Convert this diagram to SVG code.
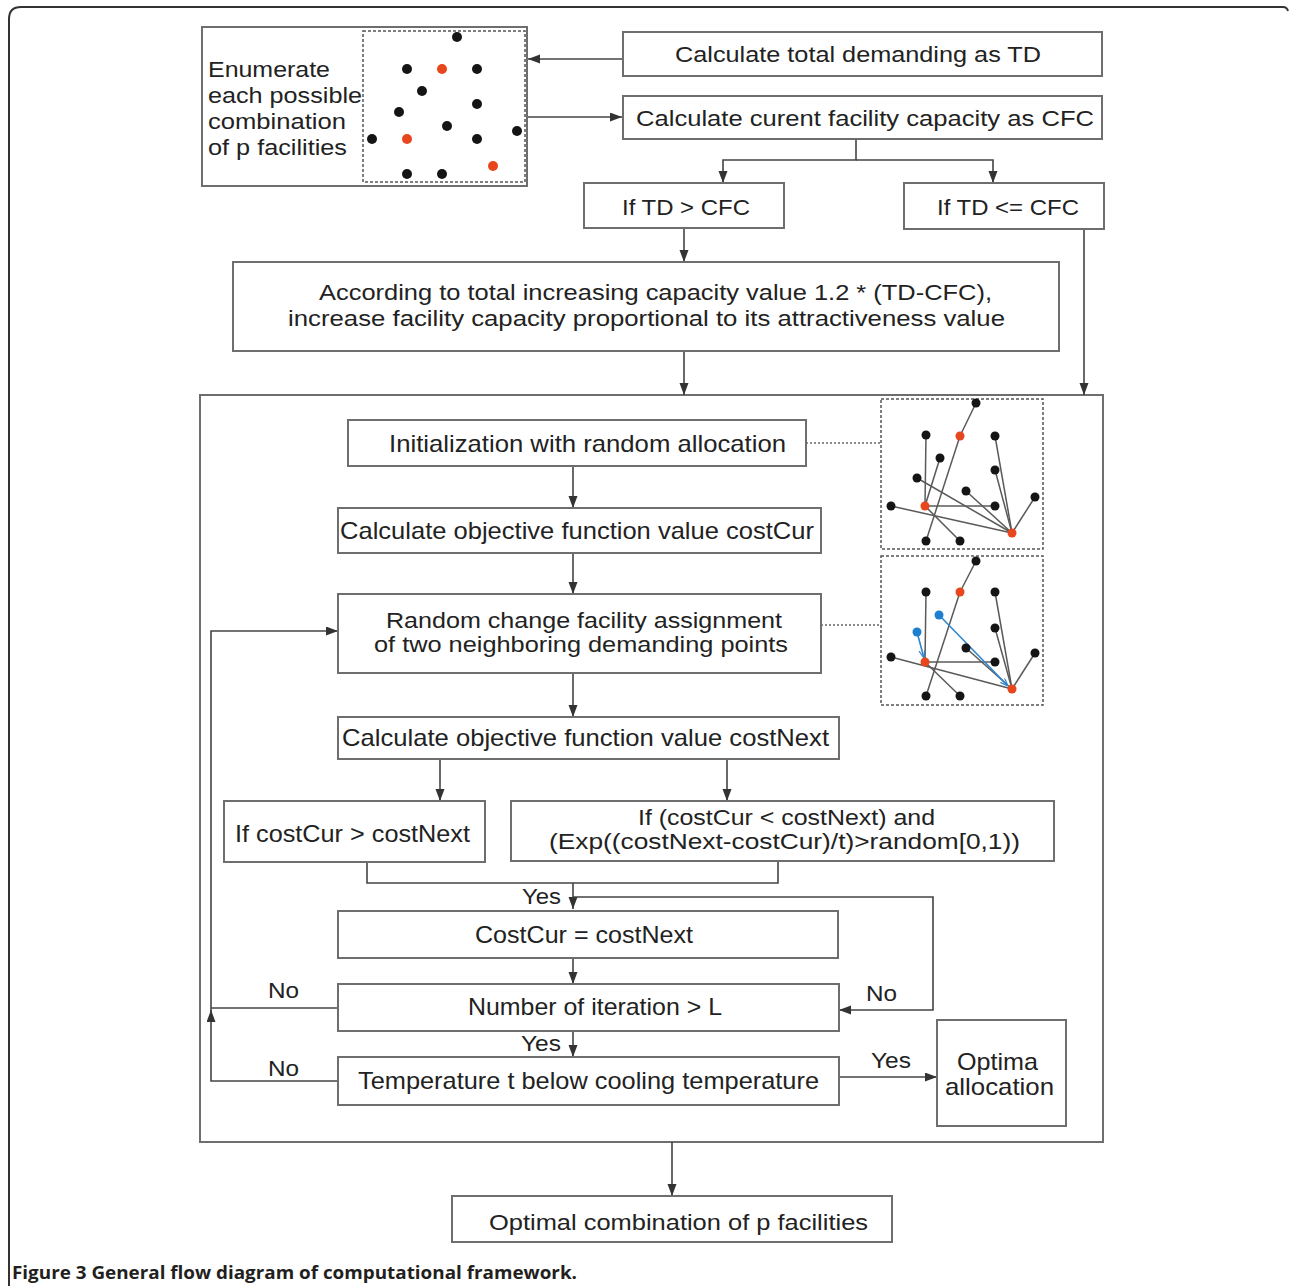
<svg xmlns="http://www.w3.org/2000/svg" width="1290" height="1286" viewBox="0 0 1290 1286">
<style>
.bx{fill:#fff;stroke:#6e6e6e;stroke-width:2}
.fr{fill:none;stroke:#6e6e6e;stroke-width:2}
.t{font-family:"Liberation Sans",Arial,sans-serif;fill:#222;font-size:22px}
.ti{font-family:"Liberation Sans",Arial,sans-serif;fill:#222;font-size:24px}
.t2{font-family:"Liberation Sans",Arial,sans-serif;fill:#222;font-size:22px}
.lb{font-family:"Liberation Sans",Arial,sans-serif;fill:#222;font-size:22px}
.c{fill:none;stroke:#444;stroke-width:1.6}
.ca{fill:none;stroke:#444;stroke-width:1.6;marker-end:url(#ah)}
.dot{fill:none;stroke:#666;stroke-width:1.4;stroke-dasharray:2,2}
.dash{fill:none;stroke:#555;stroke-width:1.5;stroke-dasharray:3,2}
.pl{stroke:#5a5a5a;stroke-width:1.5}
.bl{stroke:#2f86cf;stroke-width:1.6;marker-end:url(#ahb)}
.k{fill:#151515}
.r{fill:#e8461c}
.u{fill:#1f7fcf}
</style>
<defs>
<marker id="ah" markerUnits="userSpaceOnUse" markerWidth="12" markerHeight="10" refX="12" refY="4.5" orient="auto"><path d="M0,0 L12,4.5 L0,9 z" fill="#333"/></marker>
<marker id="ahb" markerUnits="userSpaceOnUse" markerWidth="8" markerHeight="7" refX="8" refY="3" orient="auto"><path d="M0,0 L8,3 L0,6" fill="none" stroke="#2f86cf" stroke-width="1.2"/></marker>
</defs>
<rect width="1290" height="1286" fill="#fff"/>
<path d="M9,1286 V19 Q9,7 21,7 H1283 Q1287,7 1288,11" fill="none" stroke="#333" stroke-width="2"/>

<g id="sa-frame">
<rect class="fr" x="200" y="395" width="903" height="747"/>
</g>

<g id="connectors">
<path class="ca" d="M623,59 H528"/>
<path class="ca" d="M527,117 H622"/>
<path class="ca" d="M856,139 V160 H723 V183"/>
<path class="ca" d="M856,160 H993 V183"/>
<path class="ca" d="M684,228 V262"/>
<path class="ca" d="M1084,229 V395"/>
<path class="ca" d="M684,351 V395"/>
<path class="ca" d="M573,466 V508"/>
<path class="ca" d="M573,553 V594"/>
<path class="ca" d="M573,673 V717"/>
<path class="ca" d="M440,759 V801"/>
<path class="ca" d="M727,759 V801"/>
<path class="c" d="M367,862 V883 H778 V861"/>
<path class="ca" d="M573,883 V909"/>
<path class="ca" d="M573,897 H933 V1010 H839"/>
<path class="ca" d="M573,958 V984"/>
<path class="ca" d="M573,1031 V1057"/>
<path class="c" d="M338,1008 H211"/>
<path class="ca" d="M338,1081 H211 V1010"/>
<path class="ca" d="M211,1012 V631 H338"/>
<path class="ca" d="M839,1077 H937"/>
<path class="ca" d="M672,1142 V1196"/>
<path class="dot" d="M806,443 H881"/>
<path class="dot" d="M821,625 H881"/>
</g>

<g id="enumerate">
<rect class="bx" x="202" y="27" width="325" height="159"/>
<text class="t" x="208" y="77" textLength="122" lengthAdjust="spacingAndGlyphs">Enumerate</text>
<text class="t" x="208" y="103" textLength="154" lengthAdjust="spacingAndGlyphs">each possible</text>
<text class="t" x="208" y="129" textLength="138" lengthAdjust="spacingAndGlyphs">combination</text>
<text class="t" x="208" y="155" textLength="139" lengthAdjust="spacingAndGlyphs">of p facilities</text>
<rect class="dash" x="363" y="31" width="162" height="151"/>
<g class="k">
<circle cx="457" cy="37" r="5"/><circle cx="407" cy="69" r="5"/><circle cx="477" cy="69" r="5"/><circle cx="422" cy="91" r="5"/><circle cx="477" cy="104" r="5"/><circle cx="399" cy="112" r="5"/><circle cx="447" cy="126" r="5"/><circle cx="517" cy="131" r="5"/><circle cx="372" cy="139" r="5"/><circle cx="477" cy="139" r="5"/><circle cx="407" cy="174" r="5"/><circle cx="442" cy="174" r="5"/>
</g>
<g class="r"><circle cx="442" cy="69" r="5"/><circle cx="407" cy="139" r="5"/><circle cx="493" cy="166" r="5"/></g>
</g>

<g id="calc-td">
<rect class="bx" x="623" y="32" width="479" height="44"/>
<text class="t" x="675" y="62" textLength="366" lengthAdjust="spacingAndGlyphs">Calculate total demanding as TD</text>
</g>
<g id="calc-cfc">
<rect class="bx" x="623" y="96" width="479" height="43"/>
<text class="t" x="636" y="126" textLength="458" lengthAdjust="spacingAndGlyphs">Calculate curent facility capacity as CFC</text>
</g>
<g id="if-gt">
<rect class="bx" x="584" y="183" width="200" height="45"/>
<text class="t" x="622" y="215" textLength="128" lengthAdjust="spacingAndGlyphs">If TD &gt; CFC</text>
</g>
<g id="if-le">
<rect class="bx" x="904" y="183" width="200" height="46"/>
<text class="t" x="937" y="215" textLength="142" lengthAdjust="spacingAndGlyphs">If TD &lt;= CFC</text>
</g>
<g id="increase">
<rect class="bx" x="233" y="262" width="826" height="89"/>
<text class="t" x="319" y="300" textLength="673" lengthAdjust="spacingAndGlyphs">According to total increasing capacity value 1.2 * (TD-CFC),</text>
<text class="t" x="288" y="326" textLength="717" lengthAdjust="spacingAndGlyphs">increase facility capacity proportional to its attractiveness value</text>
</g>

<g id="init">
<rect class="bx" x="348" y="420" width="458" height="46"/>
<text class="ti" x="389" y="452" textLength="397" lengthAdjust="spacingAndGlyphs">Initialization with random allocation</text>
</g>
<g id="pic-init">
<rect class="dash" x="881" y="399" width="162" height="150"/>
<g class="pl">
<line x1="976" y1="403" x2="960" y2="436"/><line x1="926" y1="435" x2="925" y2="506"/><line x1="940" y1="458" x2="925" y2="506"/><line x1="926" y1="541" x2="960" y2="436"/><line x1="917" y1="478" x2="1012" y2="533"/><line x1="966" y1="491" x2="1012" y2="533"/><line x1="995" y1="436" x2="1012" y2="533"/><line x1="995" y1="470" x2="1012" y2="533"/><line x1="1035" y1="497" x2="1012" y2="533"/><line x1="891" y1="506" x2="1012" y2="533"/><line x1="995" y1="506" x2="925" y2="506"/><line x1="960" y1="541" x2="925" y2="506"/>
</g>
<g class="k">
<circle cx="976" cy="403" r="4.5"/><circle cx="926" cy="435" r="4.5"/><circle cx="995" cy="436" r="4.5"/><circle cx="940" cy="458" r="4.5"/><circle cx="995" cy="470" r="4.5"/><circle cx="917" cy="478" r="4.5"/><circle cx="966" cy="491" r="4.5"/><circle cx="1035" cy="497" r="4.5"/><circle cx="891" cy="506" r="4.5"/><circle cx="995" cy="506" r="4.5"/><circle cx="926" cy="541" r="4.5"/><circle cx="960" cy="541" r="4.5"/>
</g>
<g class="r"><circle cx="960" cy="436" r="4.5"/><circle cx="925" cy="506" r="4.5"/><circle cx="1012" cy="533" r="4.5"/></g>
</g>

<g id="cost-cur">
<rect class="bx" x="338" y="508" width="483" height="45"/>
<text class="ti" x="340" y="539" textLength="474" lengthAdjust="spacingAndGlyphs">Calculate objective function value costCur</text>
</g>
<g id="random-change">
<rect class="bx" x="338" y="594" width="483" height="79"/>
<text class="t2" x="386" y="628" textLength="396" lengthAdjust="spacingAndGlyphs">Random change facility assignment</text>
<text class="t2" x="374" y="652" textLength="414" lengthAdjust="spacingAndGlyphs">of two neighboring demanding points</text>
</g>
<g id="pic-change">
<rect class="dash" x="881" y="556" width="162" height="149"/>
<g class="pl">
<line x1="976" y1="561" x2="960" y2="592"/><line x1="926" y1="592" x2="925" y2="662"/><line x1="926" y1="696" x2="960" y2="592"/><line x1="995" y1="592" x2="1012" y2="689"/><line x1="995" y1="628" x2="1012" y2="689"/><line x1="1035" y1="653" x2="1012" y2="689"/><line x1="966" y1="648" x2="1012" y2="689"/><line x1="891" y1="657" x2="1012" y2="689"/><line x1="995" y1="662" x2="925" y2="662"/><line x1="960" y1="696" x2="925" y2="662"/>
</g>
<line class="bl" x1="917" y1="632" x2="924" y2="658"/>
<line class="bl" x1="939" y1="615" x2="1008" y2="686"/>
<g class="k">
<circle cx="976" cy="561" r="4.5"/><circle cx="926" cy="592" r="4.5"/><circle cx="995" cy="592" r="4.5"/><circle cx="995" cy="628" r="4.5"/><circle cx="966" cy="648" r="4.5"/><circle cx="1035" cy="653" r="4.5"/><circle cx="891" cy="657" r="4.5"/><circle cx="995" cy="662" r="4.5"/><circle cx="926" cy="696" r="4.5"/><circle cx="960" cy="696" r="4.5"/>
</g>
<g class="r"><circle cx="960" cy="592" r="4.5"/><circle cx="925" cy="662" r="4.5"/><circle cx="1012" cy="689" r="4.5"/></g>
<g class="u"><circle cx="939" cy="615" r="4.5"/><circle cx="917" cy="632" r="4.5"/></g>
</g>

<g id="cost-next">
<rect class="bx" x="338" y="717" width="501" height="42"/>
<text class="ti" x="342" y="746" textLength="487" lengthAdjust="spacingAndGlyphs">Calculate objective function value costNext</text>
</g>
<g id="if-better">
<rect class="bx" x="224" y="801" width="261" height="61"/>
<text class="ti" x="235" y="842" textLength="235" lengthAdjust="spacingAndGlyphs">If costCur &gt; costNext</text>
</g>
<g id="if-accept">
<rect class="bx" x="511" y="801" width="543" height="60"/>
<text class="t2" x="638" y="825" textLength="297" lengthAdjust="spacingAndGlyphs">If (costCur &lt; costNext) and</text>
<text class="t2" x="549" y="849" textLength="471" lengthAdjust="spacingAndGlyphs">(Exp((costNext-costCur)/t)&gt;random[0,1))</text>
</g>
<g id="update">
<rect class="bx" x="338" y="911" width="500" height="47"/>
<text class="ti" x="475" y="943" textLength="218" lengthAdjust="spacingAndGlyphs">CostCur = costNext</text>
</g>
<g id="iter">
<rect class="bx" x="338" y="984" width="501" height="47"/>
<text class="ti" x="468" y="1015" textLength="254" lengthAdjust="spacingAndGlyphs">Number of iteration &gt; L</text>
</g>
<g id="temp">
<rect class="bx" x="338" y="1057" width="501" height="48"/>
<text class="ti" x="358" y="1089" textLength="461" lengthAdjust="spacingAndGlyphs">Temperature t below cooling temperature</text>
</g>
<g id="optima">
<rect class="bx" x="937" y="1020" width="129" height="106"/>
<text class="ti" x="957" y="1070" textLength="81" lengthAdjust="spacingAndGlyphs">Optima</text>
<text class="ti" x="945" y="1095" textLength="109" lengthAdjust="spacingAndGlyphs">allocation</text>
</g>
<g id="labels">
<text class="lb" x="522" y="904" textLength="39" lengthAdjust="spacingAndGlyphs">Yes</text>
<text class="lb" x="866" y="1001" textLength="31" lengthAdjust="spacingAndGlyphs">No</text>
<text class="lb" x="268" y="998" textLength="31" lengthAdjust="spacingAndGlyphs">No</text>
<text class="lb" x="521" y="1051" textLength="40" lengthAdjust="spacingAndGlyphs">Yes</text>
<text class="lb" x="268" y="1076" textLength="31" lengthAdjust="spacingAndGlyphs">No</text>
<text class="lb" x="871" y="1068" textLength="40" lengthAdjust="spacingAndGlyphs">Yes</text>
</g>
<g id="optimal-combination">
<rect class="bx" x="452" y="1196" width="440" height="46"/>
<text class="t" x="489" y="1230" textLength="379" lengthAdjust="spacingAndGlyphs">Optimal combination of p facilities</text>
</g>
<text x="12" y="1279" font-family="'Open Sans','Liberation Sans',sans-serif" font-weight="700" font-size="18" fill="#231f20" textLength="565" lengthAdjust="spacingAndGlyphs">Figure 3 General flow diagram of computational framework.</text>
</svg>
